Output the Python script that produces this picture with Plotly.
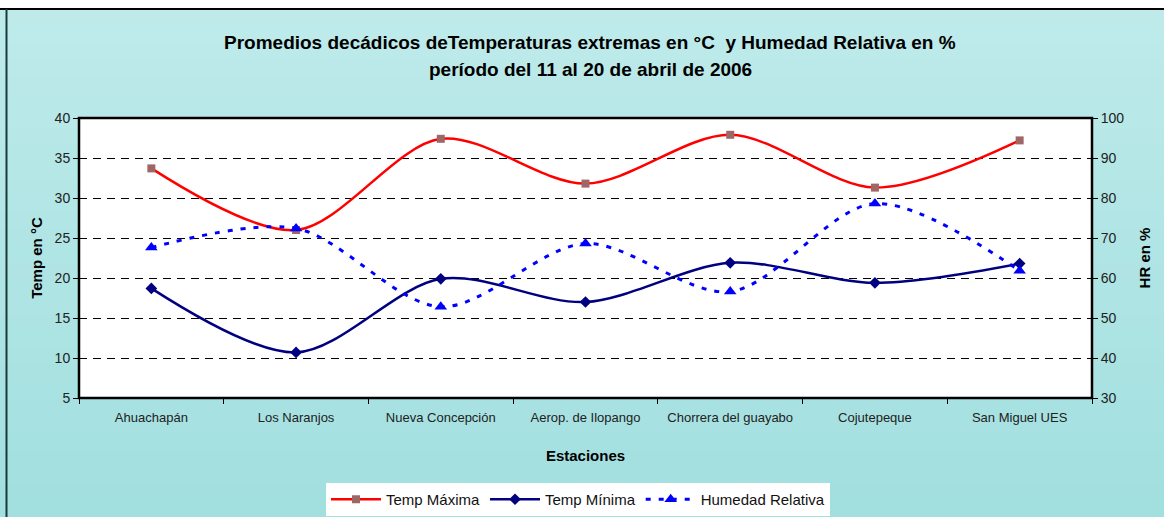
import plotly.graph_objects as go

estaciones = ["Ahuachapán", "Los Naranjos", "Nueva Concepción", "Aerop. de Ilopango",
              "Chorrera del guayabo", "Cojutepeque", "San Miguel UES"]
temp_max = [33.7, 26.0, 37.4, 31.8, 37.9, 31.3, 37.2]
temp_min = [18.7, 10.7, 19.9, 17.0, 21.9, 19.4, 21.8]
hum_rel = [67.6, 72.4, 52.8, 68.6, 56.6, 78.6, 61.8]

W, H = 1164, 517
L, R, T, B = 79, 1092, 118, 398
FONT = "Liberation Sans, Arial, sans-serif"

def px(x):
    return (x - L) / (R - L)

def py(y):
    return (B - y) / (B - T)

fig = go.Figure()
fig.add_trace(go.Scatter(
    x=estaciones, y=temp_max, name="Temp Máxima", mode="lines+markers",
    line=dict(color="#FF0000", width=2.5, shape="spline", smoothing=0.9),
    marker=dict(symbol="square", size=8, color="#A06666")))
fig.add_trace(go.Scatter(
    x=estaciones, y=temp_min, name="Temp Mínima", mode="lines+markers",
    line=dict(color="#000080", width=2.5, shape="spline", smoothing=0.9),
    marker=dict(symbol="diamond", size=9, color="#000080")))
fig.add_trace(go.Scatter(
    x=estaciones, y=hum_rel, name="Humedad Relativa", mode="lines+markers", yaxis="y2",
    line=dict(color="#0000FF", width=3, dash="5px,8px", shape="spline", smoothing=0.9),
    marker=dict(symbol="triangle-up", size=11, color="#0000FF")))

# gradient background bands
shapes = []
n = 30
top_c = (0xBE, 0xEA, 0xEA)
bot_c = (0xA2, 0xDF, 0xDF)
for i in range(n):
    f = i / (n - 1)
    c = tuple(round(top_c[k] + (bot_c[k] - top_c[k]) * f) for k in range(3))
    y0p = 9 + (H - 9) * i / n
    y1p = 9 + (H - 9) * (i + 1) / n + 1
    shapes.append(dict(type="rect", xref="paper", yref="paper",
                       x0=px(0), x1=px(W), y0=py(y1p), y1=py(y0p),
                       fillcolor="rgb(%d,%d,%d)" % c, line=dict(width=0), layer="below"))
shapes.append(dict(type="rect", xref="paper", yref="paper", x0=px(0), x1=px(W),
                   y0=py(9), y1=py(0), fillcolor="white", line=dict(width=0), layer="below"))
shapes.append(dict(type="rect", xref="paper", yref="paper", x0=0, x1=1, y0=0, y1=1,
                   fillcolor="white", line=dict(width=0), layer="below"))
shapes.append(dict(type="line", xref="paper", yref="paper", x0=px(0), x1=px(W),
                   y0=py(9), y1=py(9), line=dict(color="black", width=2)))
shapes.append(dict(type="line", xref="paper", yref="paper", x0=px(6.5), x1=px(6.5),
                   y0=py(9), y1=py(H), line=dict(color="#1a3a3a", width=2)))
shapes.append(dict(type="rect", xref="paper", yref="paper", x0=0, x1=1, y0=0, y1=1,
                   line=dict(color="black", width=2.5), fillcolor="rgba(0,0,0,0)"))

title_lines = ["Promedios decádicos deTemperaturas extremas en °C  y Humedad Relativa en %",
               "período del 11 al 20 de abril de 2006"]
annotations = []
for txt, yy in zip(title_lines, [42, 70]):
    annotations.append(dict(text="<b>%s</b>" % txt, xref="paper", yref="paper",
                            x=px(590), y=py(yy), xanchor="center", yanchor="middle",
                            showarrow=False, font=dict(size=19, family=FONT, color="black")))

fig.update_layout(
    width=W, height=H,
    margin=dict(l=L, r=W - R, t=T, b=H - B, autoexpand=False),
    paper_bgcolor="#B0E4E4", plot_bgcolor="white",
    font=dict(family=FONT, color="black"),
    shapes=shapes,
    annotations=annotations,
    showlegend=True,
    xaxis=dict(type="category", tickson="boundaries", ticks="outside", ticklen=5,
               tickcolor="black", showgrid=False, showline=False,
               ticklabelstandoff=10,
               tickfont=dict(size=13, family=FONT, color="#222"),
               title=dict(text="<b>Estaciones</b>", font=dict(size=15), standoff=26),
               range=[-0.5, 6.5]),
    yaxis=dict(range=[5, 40], dtick=5, ticks="outside", ticklen=5, tickcolor="black",
               showline=False, showgrid=True, gridcolor="black", gridwidth=1,
               griddash="8px,6px", zeroline=False,
               tickfont=dict(size=14, family=FONT, color="#222"),
               title=dict(text="<b>Temp en °C</b>", font=dict(size=15), standoff=8)),
    yaxis2=dict(range=[30, 100], dtick=10, overlaying="y", side="right",
                ticks="outside", ticklen=5, tickcolor="black", showgrid=False,
                zeroline=False, showline=False,
                tickfont=dict(size=14, family=FONT, color="#222"),
                title=dict(text="<b>HR en %</b>", font=dict(size=15), standoff=16)),
    legend=dict(orientation="h", x=px(578), xanchor="center", y=py(516), yanchor="bottom",
                bgcolor="white", borderwidth=0, font=dict(size=15, family=FONT, color="#111"),
                itemwidth=50, tracegroupgap=0, traceorder="normal"),
)

fig.write_html("out.html", config={"displayModeBar": False},
               post_script="document.body.style.margin='0';document.body.style.overflow='hidden';")
